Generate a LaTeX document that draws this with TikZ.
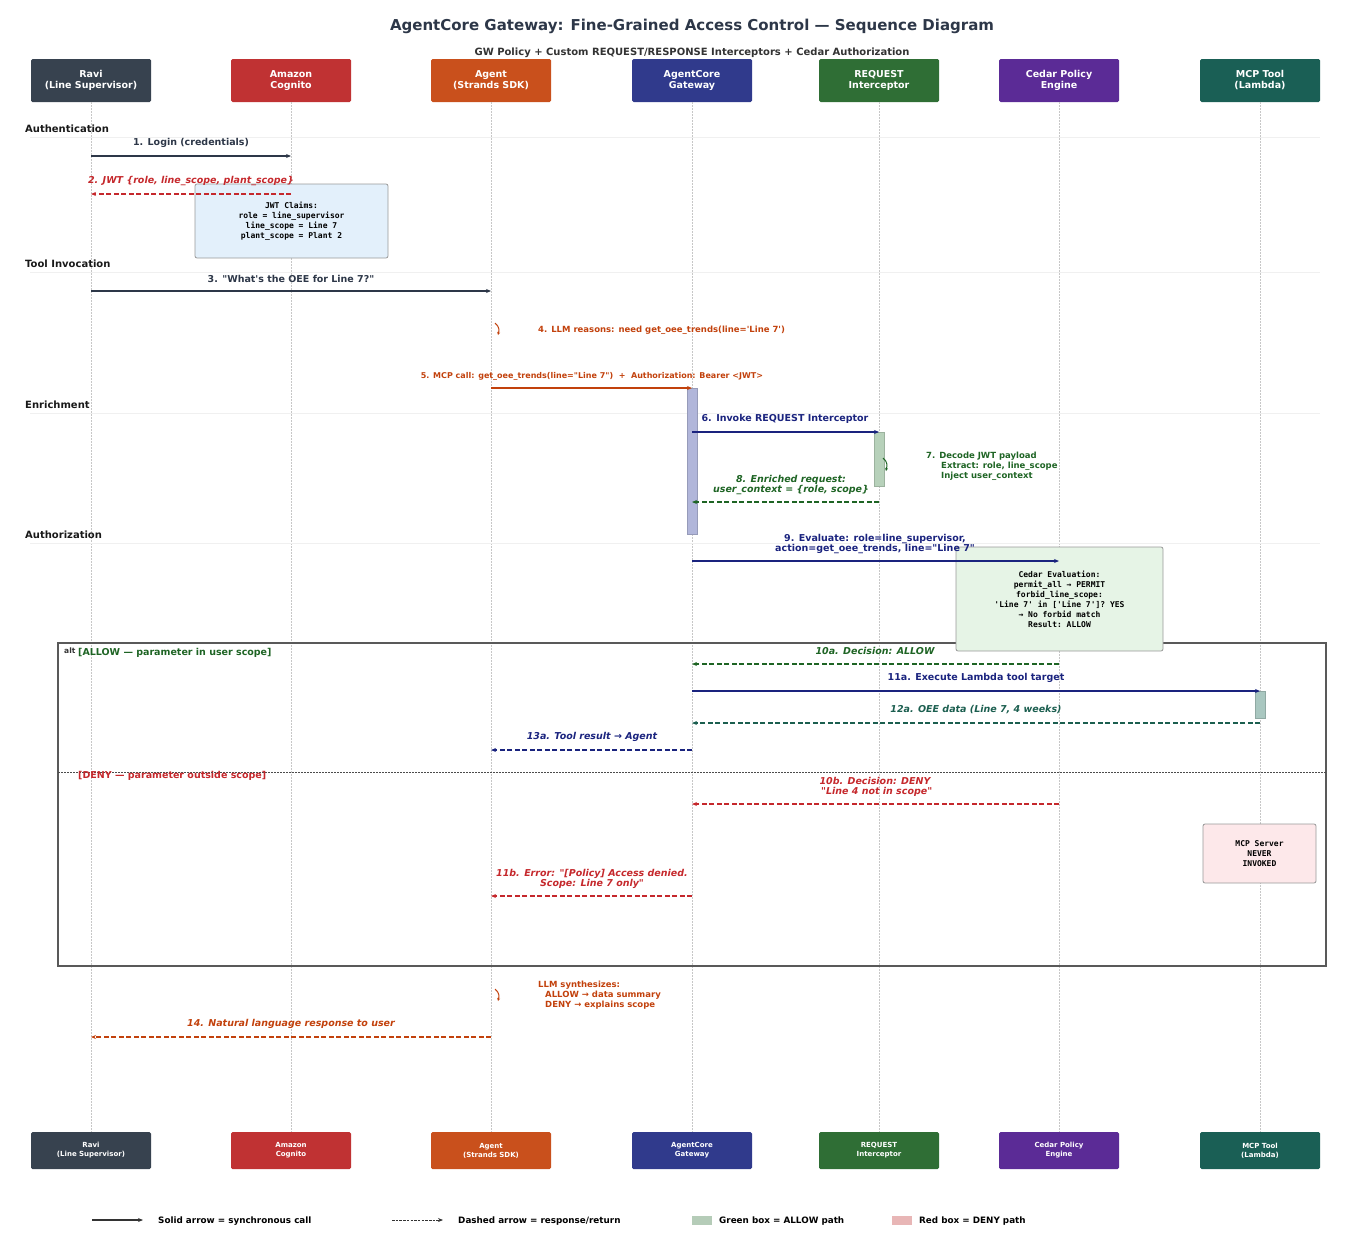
\documentclass[tikz,border=0pt]{standalone}
\usepackage{fontspec}
\setmainfont{DejaVu Sans}
\setmonofont{DejaVu Sans Mono}
\usetikzlibrary{arrows.meta}

\definecolor{cRavi}{HTML}{37424F}
\definecolor{cCognito}{HTML}{C03233}
\definecolor{cAgent}{HTML}{C9501C}
\definecolor{cGateway}{HTML}{303A8C}
\definecolor{cReq}{HTML}{2F6E35}
\definecolor{cCedar}{HTML}{5B2B96}
\definecolor{cMcp}{HTML}{1A5F55}
\definecolor{ink}{HTML}{2D3748}
\definecolor{redline}{HTML}{C5282C}
\definecolor{orng}{HTML}{C2410C}
\definecolor{navy}{HTML}{1A237E}
\definecolor{grn}{HTML}{1E6424}
\definecolor{teal}{HTML}{1B5E4F}
\definecolor{jwtfill}{HTML}{E3F0FB}
\definecolor{cedarfill}{HTML}{E6F4E6}
\definecolor{denyfill}{HTML}{FDE8EA}
\definecolor{barGw}{HTML}{B1B6DA}
\definecolor{barReq}{HTML}{B7D1BA}
\definecolor{barMcp}{HTML}{A9C7C0}
\definecolor{keyGreen}{HTML}{B5CCB8}
\definecolor{keyRed}{HTML}{E8B6B6}

\newcommand{\ttlfont}{\bfseries\fontsize{15}{18}\selectfont}
\newcommand{\subfont}{\bfseries\fontsize{10}{12}\selectfont}
\newcommand{\hdfont}{\bfseries\fontsize{9.5}{11}\selectfont}
\newcommand{\ftfont}{\bfseries\fontsize{7}{9}\selectfont}
\newcommand{\phfont}{\bfseries\fontsize{10}{12}\selectfont}
\newcommand{\msgfont}{\bfseries\fontsize{9.5}{10.5}\selectfont}
\newcommand{\imsgfont}{\bfseries\itshape\fontsize{9.5}{10.5}\selectfont}
\newcommand{\smfont}{\bfseries\fontsize{8.5}{10}\selectfont}
\newcommand{\boxfont}{\ttfamily\bfseries\fontsize{8}{10}\selectfont}
\newcommand{\lgfont}{\bfseries\fontsize{8.8}{10}\selectfont}
\newcommand{\dq}{\textquotedbl}
\newcommand{\sq}{\textquotesingle}

\tikzset{
  actor/.style={fill=#1, rounded corners=1.5pt, minimum width=120pt, minimum height=43pt,
                inner sep=0pt, text=white, align=center, font=\hdfont},
  footactor/.style={actor=#1, minimum height=37pt, font=\ftfont},
  lifeline/.style={draw=black!22, line width=0.6pt, dash pattern=on 1.5pt off 1.5pt},
  sepline/.style={draw=black!6, line width=0.8pt},
  phase/.style={anchor=west, inner sep=0pt, font=\phfont, text=black!90},
  call/.style={line width=1.4pt, -{Stealth[length=5pt,width=4pt]}},
  reply/.style={line width=1.4pt, dash pattern=on 5pt off 2.5pt, -{Stealth[length=5pt,width=4pt]}},
  msg/.style={inner sep=0pt, font=\msgfont, align=center},
  imsg/.style={msg, font=\imsgfont},
  aside/.style={inner sep=0pt, font=\smfont, align=left, anchor=west},
  notebox/.style={draw=black!40, line width=0.8pt, rounded corners=2pt, fill=#1,
                  inner sep=0pt, font=\boxfont, align=center},
  actbar/.style={fill=#1, draw=#1!85!black, line width=0.3pt},
  selfloop/.style={line width=1pt, -{Stealth[length=3pt,width=3pt]}},
}

\begin{document}
\begin{tikzpicture}[x=1pt, y=-1pt]
\useasboundingbox (0,0) rectangle (1351,1250);

% title
\node[font=\ttlfont, text=ink] (title) at (692,26)
  {AgentCore Gateway: Fine-Grained Access Control — Sequence Diagram};
\node[font=\subfont, text=black!80] (subtitle) at (692,53)
  {GW Policy + Custom REQUEST/RESPONSE Interceptors + Cedar Authorization};

% participants, top and bottom, with lifelines
\foreach \id/\xx/\clr/\txt in {ravi/91/cRavi/{Ravi\\(Line Supervisor)},
    cognito/291/cCognito/{Amazon\\Cognito},
    agent/491/cAgent/{Agent\\(Strands SDK)},
    gateway/692/cGateway/{AgentCore\\Gateway},
    reqint/879/cReq/{REQUEST\\Interceptor},
    cedar/1059/cCedar/{Cedar Policy\\Engine},
    mcp/1260/cMcp/{MCP Tool\\(Lambda)}}{
  \node[actor=\clr] (\id) at (\xx,80.5) {\txt};
  \node[footactor=\clr] (\id-f) at (\xx,1150.5) {\txt};
  \draw[lifeline] (\id) -- (\id-f);
}

% phases
\node[phase] (ph-auth) at (25,129) {Authentication};
\draw[sepline] (30,137) -- (1320,137);
\node[phase] (ph-tool) at (25,264) {Tool Invocation};
\draw[sepline] (30,272) -- (1320,272);
\node[phase] (ph-enr) at (25,405) {Enrichment};
\draw[sepline] (30,413) -- (1320,413);
\node[phase] (ph-authz) at (25,535) {Authorization};
\draw[sepline] (30,543) -- (1320,543);

% alt frame
\draw[draw=black!65, line width=1.2pt] (58,643) rectangle (1326,966);
\draw[draw=black!70, line width=0.6pt, dash pattern=on 2pt off 1pt] (58,772) -- (1326,772);
\node[inner sep=0pt, anchor=west, font=\bfseries\fontsize{7.5}{9}\selectfont, text=black!80] (alt) at (64,651) {alt};
\node[aside, font=\msgfont, text=grn] (g-allow) at (78,653) {[ALLOW — parameter in user scope]};
\node[aside, font=\msgfont, text=redline] (g-deny) at (78,776) {[DENY — parameter outside scope]};

% notes
\node[notebox=jwtfill, minimum width=193pt, minimum height=74pt] (jwt) at (291.5,221)
  {JWT Claims:\\role = line\_supervisor\\line\_scope = Line 7\\plant\_scope = Plant 2};
\node[notebox=cedarfill, minimum width=207pt, minimum height=104pt] (cedarnote) at (1059.5,599)
  {Cedar Evaluation:\\permit\_all → PERMIT\\forbid\_line\_scope:\\\sq Line 7\sq{} in [\sq Line 7\sq]? YES\\→ No forbid match\\Result: ALLOW};
\node[notebox=denyfill, minimum width=113pt, minimum height=59pt] (nevernote) at (1259.5,853.5)
  {MCP Server\\NEVER\\INVOKED};

% activation bars
\draw[actbar=barGw] (687,388) rectangle (697,534);
\draw[actbar=barReq] (874,432) rectangle (884,486);
\draw[actbar=barMcp] (1255,691) rectangle (1265,718);

% 1-3
\node[msg, text=ink] (m1) at (191,143) {1. Login (credentials)};
\draw[call, ink] (ravi |- 0,156) -- (cognito |- 0,156);
\node[imsg, text=redline] (m2) at (191,181) {2. JWT \{role, line\_scope, plant\_scope\}};
\draw[reply, redline] (cognito |- 0,194) -- (ravi |- 0,194);
\node[msg, text=ink] (m3) at (291,279) {3. \dq What\sq s the OEE for Line 7?\dq};
\draw[call, ink] (ravi |- 0,291) -- (agent |- 0,291);

% 4-5
\draw[selfloop, orng] (495,323) .. controls (500,327) and (499,331) .. (498,335);
\node[aside, text=orng] (m4) at (538,330) {4. LLM reasons: need get\_oee\_trends(line=\sq Line 7\sq)};
\node[msg, font=\bfseries\fontsize{8}{10}\selectfont, text=orng] (m5) at (592,376)
  {5. MCP call: get\_oee\_trends(line=\dq Line 7\dq)~~+~~Authorization: Bearer <JWT>};
\draw[call, orng] (agent |- 0,388) -- (gateway |- 0,388);

% 6-8
\node[msg, text=navy] (m6) at (785,419) {6. Invoke REQUEST Interceptor};
\draw[call, navy] (gateway |- 0,432) -- (reqint |- 0,432);
\draw[selfloop, grn] (883,458) .. controls (888,462) and (887,466) .. (886,471);
\node[aside, text=grn] (m7) at (926,466)
  {7. Decode JWT payload\\\hspace*{15pt}Extract: role, line\_scope\\\hspace*{15pt}Inject user\_context};
\node[imsg, text=grn] (m8) at (791,485) {8. Enriched request:\\user\_context = \{role, scope\}};
\draw[reply, grn] (reqint |- 0,502) -- (gateway |- 0,502);

% 9
\node[msg, text=navy] (m9) at (875,544) {9. Evaluate: role=line\_supervisor,\\action=get\_oee\_trends, line=\dq Line 7\dq};
\draw[call, navy] (gateway |- 0,561) -- (cedar |- 0,561);

% allow branch
\node[imsg, text=grn] (m10a) at (875,651) {10a. Decision: ALLOW};
\draw[reply, grn] (cedar |- 0,664) -- (gateway |- 0,664);
\node[msg, text=navy] (m11a) at (976,678) {11a. Execute Lambda tool target};
\draw[call, navy] (gateway |- 0,691) -- (mcp |- 0,691);
\node[imsg, text=teal] (m12a) at (976,710) {12a. OEE data (Line 7, 4 weeks)};
\draw[reply, teal] (mcp |- 0,723) -- (gateway |- 0,723);
\node[imsg, text=navy] (m13a) at (592,737) {13a. Tool result → Agent};
\draw[reply, navy] (gateway |- 0,750) -- (agent |- 0,750);

% deny branch
\node[imsg, text=redline] (m10b) at (875,787) {10b. Decision: DENY\\~\dq Line 4 not in scope\dq};
\draw[reply, redline] (cedar |- 0,804) -- (gateway |- 0,804);
\node[imsg, text=redline] (m11b) at (592,879) {11b. Error: \dq[Policy] Access denied.\\Scope: Line 7 only\dq};
\draw[reply, redline] (gateway |- 0,896) -- (agent |- 0,896);

% 14
\draw[selfloop, orng] (495,989) .. controls (500,993) and (499,997) .. (498,1001);
\node[aside, text=orng] (synth) at (538,995)
  {LLM synthesizes:\\\hspace*{7pt}ALLOW → data summary\\\hspace*{7pt}DENY → explains scope};
\node[imsg, text=orng] (m14) at (291,1024) {14. Natural language response to user};
\draw[reply, orng] (agent |- 0,1037) -- (ravi |- 0,1037);

% legend
\coordinate (lg1a) at (92,1220);  \coordinate (lg1b) at (143,1220);
\coordinate (lg2a) at (392,1220); \coordinate (lg2b) at (443,1220);
\draw[call, black!80, line width=1.2pt] (lg1a) -- (lg1b);
\node[aside, font=\lgfont] (lgt1) at (158,1221) {Solid arrow = synchronous call};
\draw[reply, black!80, line width=0.8pt, dash pattern=on 2.5pt off 1.2pt] (lg2a) -- (lg2b);
\node[aside, font=\lgfont] (lgt2) at (458,1221) {Dashed arrow = response/return};
\node[fill=keyGreen, minimum width=20pt, minimum height=9pt, inner sep=0pt] (lgg) at (702,1220.5) {};
\node[aside, font=\lgfont] (lgt3) at (719,1221) {Green box = ALLOW path};
\node[fill=keyRed, minimum width=20pt, minimum height=9pt, inner sep=0pt] (lgr) at (902,1220.5) {};
\node[aside, font=\lgfont] (lgt4) at (919,1221) {Red box = DENY path};
\end{tikzpicture}
\end{document}
